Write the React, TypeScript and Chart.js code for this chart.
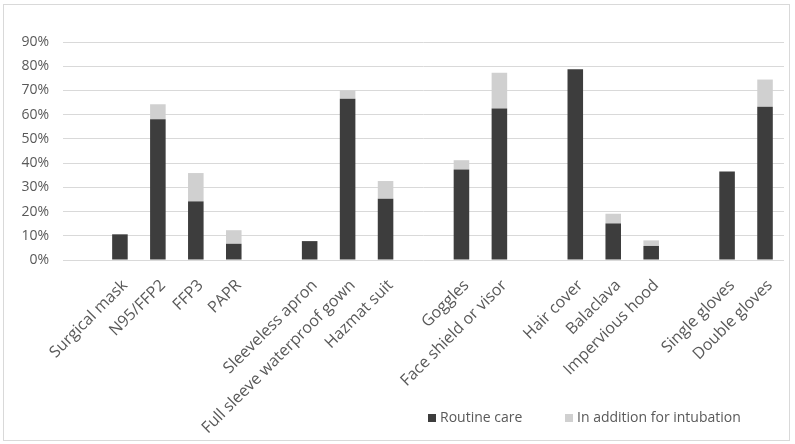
import React, { useEffect, useRef } from "react";
import { Chart, registerables } from "chart.js";

Chart.register(...registerables);

const categories: string[] = [
  "", "Surgical mask", "N95/FFP2", "FFP3", "PAPR",
  "", "Sleeveless apron", "Full sleeve waterproof gown", "Hazmat suit",
  "", "Goggles", "Face shield or visor",
  "", "Hair cover", "Balaclava", "Impervious hood",
  "", "Single gloves", "Double gloves",
];
const routineCare: (number | null)[] = [
  null, 10.6, 58.1, 24.2, 6.7,
  null, 7.8, 66.6, 25.3,
  null, 37.4, 62.5,
  null, 78.7, 15.1, 5.8,
  null, 36.5, 63.3,
];
const additionForIntubation: (number | null)[] = [
  null, 0, 6.2, 11.7, 5.6,
  null, 0, 3.4, 7.3,
  null, 3.8, 14.8,
  null, 0, 4.0, 2.3,
  null, 0, 11.2,
];
const seriesNames = ["Routine care", "In addition for intubation"];
const yMin = 0;
const yMax = 90;
const yStep = 10;

const DARK = "#3d3d3d";
const LIGHT = "#d0d0d0";
const TEXT = "#595959";
const GRID = "#d9d9d9";
const FONT = "'Open Sans', sans-serif";

const framePlugin = {
  id: "frameAndLegend",
  beforeDraw(chart: any) {
    const ctx = chart.ctx;
    ctx.save();
    ctx.fillStyle = "#ffffff";
    ctx.fillRect(0, 0, chart.width, chart.height);
    ctx.strokeStyle = GRID;
    ctx.lineWidth = 1;
    ctx.strokeRect(3.5, 4.5, 786, 436);
    ctx.restore();
  },
  afterDraw(chart: any) {
    const ctx = chart.ctx;
    ctx.save();
    ctx.font = `14px ${FONT}`;
    ctx.textBaseline = "middle";
    ctx.textAlign = "left";
    const colors = [DARK, LIGHT];
    const starts = [428, 565];
    const cy = 418;
    seriesNames.forEach((name, i) => {
      ctx.fillStyle = colors[i];
      ctx.fillRect(starts[i], cy - 4, 8, 8);
      ctx.fillStyle = TEXT;
      ctx.fillText(name, starts[i] + 12, cy);
    });
    ctx.restore();
  },
};

export default function App() {
  const ref = useRef<HTMLCanvasElement | null>(null);
  useEffect(() => {
    if (!ref.current) return;
    const chart = new Chart(ref.current, {
      type: "bar",
      data: {
        labels: categories,
        datasets: [
          {
            label: seriesNames[0],
            data: routineCare as any,
            backgroundColor: DARK,
            barPercentage: 0.41,
            categoryPercentage: 1,
          },
          {
            label: seriesNames[1],
            data: additionForIntubation as any,
            backgroundColor: LIGHT,
            barPercentage: 0.41,
            categoryPercentage: 1,
          },
        ],
      },
      options: {
        animation: false,
        responsive: true,
        maintainAspectRatio: false,
        layout: { padding: { top: 42, right: 11, left: 0, bottom: 0 } },
        plugins: {
          legend: { display: false },
          tooltip: { enabled: false },
        },
        scales: {
          x: {
            stacked: true,
            grid: { display: false },
            border: { display: false },
            ticks: {
              autoSkip: false,
              minRotation: 45,
              maxRotation: 45,
              color: TEXT,
              font: { family: FONT, size: 16 },
              padding: 8,
              labelOffset: 5,
            },
            afterFit: (s: any) => {
              s.height = 184;
            },
          },
          y: {
            stacked: true,
            min: yMin,
            max: yMax,
            grid: { color: GRID, drawTicks: false, lineWidth: 1 },
            border: { display: false },
            ticks: {
              stepSize: yStep,
              color: TEXT,
              font: { family: FONT, size: 14 },
              padding: 14,
              callback: (v: any) => `${v}%`,
            },
            afterFit: (s: any) => {
              s.width = 63;
            },
          },
        },
      },
      plugins: [framePlugin],
    });
    return () => chart.destroy();
  }, []);
  return (
    <div style={{ position: "fixed", left: 0, top: 0, width: 795, height: 444, background: "#fff" }}>
      <canvas ref={ref} />
    </div>
  );
}
